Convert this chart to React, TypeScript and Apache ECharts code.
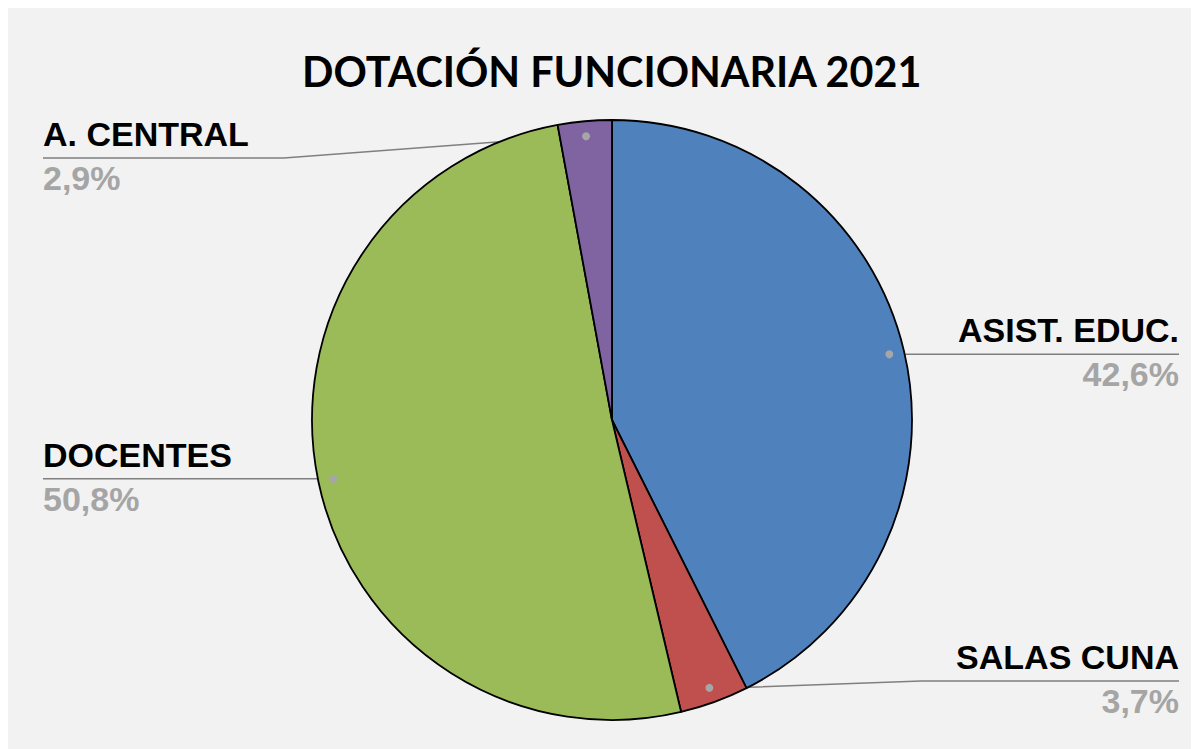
import React, { useEffect, useRef } from 'react';
import * as echarts from 'echarts';

const chartTitle = 'DOTACIÓN FUNCIONARIA 2021';
const categories = ['ASIST. EDUC.', 'SALAS CUNA', 'DOCENTES', 'A. CENTRAL'];
const values = [42.6, 3.7, 50.8, 2.9];
const colors = ['#4f81bd', '#c0504d', '#9bbb59', '#8064a2'];

const W = 1191;
const H = 741;
const CX = 604;
const CY = 412;
const R = 300;

function midAngles(): number[] {
  const total = values.reduce((a, b) => a + b, 0);
  let acc = 0;
  return values.map((v) => {
    const a = ((acc + v / 2) / total) * Math.PI * 2;
    acc += v;
    return a;
  });
}

export default function App() {
  const ref = useRef<HTMLDivElement>(null);
  useEffect(() => {
    if (!ref.current) return;
    const chart = echarts.init(ref.current, null, { renderer: 'svg' });
    const mids = midAngles();
    const dots = mids.map((a) => [CX + 0.95 * R * Math.sin(a), CY - 0.95 * R * Math.cos(a)]);
    const labelFont = 'Liberation Sans, Arial, sans-serif';
    const option: any = {
      animation: false,
      backgroundColor: '#f2f2f2',
      title: {
        text: chartTitle,
        left: 289,
        top: 37,
        textStyle: { fontFamily: 'Lato', fontWeight: 'bold', fontSize: 41.3, color: '#000' },
      },
      graphic: dots.map(([x, y]) => ({
        type: 'circle',
        z: 100,
        shape: { cx: x, cy: y, r: 4 },
        style: { fill: '#a6a6a6' },
      })),
      series: [
        {
          type: 'pie',
          center: [CX, CY],
          radius: R,
          startAngle: 90,
          clockwise: true,
          avoidLabelOverlap: false,
          data: categories.map((n, i) => ({ name: n, value: values[i], itemStyle: { color: colors[i] } })),
          itemStyle: { borderColor: '#000', borderWidth: 1.8 },
          emphasis: { disabled: true },
          label: {
            show: true,
            position: 'outside',
            formatter: (p: any) => `{n|${p.name}}\n{p|${p.percent.toFixed(1).replace('.', ',')}%}`,
            rich: {
              n: { fontFamily: labelFont, fontWeight: 'bold', fontSize: 34, color: '#000', lineHeight: 44 },
              p: { fontFamily: labelFont, fontWeight: 'bold', fontSize: 34, color: '#a5a5a5', lineHeight: 44 },
            },
          },
          labelLine: { show: true, lineStyle: { color: '#7f7f7f', width: 1.5 } },
          labelLayout: (p: any) => {
            const i = p.dataIndex;
            const [dx, dy] = dots[i];
            const right = dx > CX;
            const ly = Math.min(Math.max(dy, 150), 673);
            const ex = right ? W - 20 : 35;
            const w = p.labelRect.width;
            const hx = right ? ex - w - 35 : ex + w + 35;
            const kx = right ? dx + 40 : dx - 40;
            const ky = dy + (ly - dy) * 0.1;
            return {
              x: ex,
              y: ly - 2,
              align: right ? 'right' : 'left',
              verticalAlign: 'middle',
              labelLinePoints: [
                [dx, dy],
                [kx, ky],
                [hx, ly],
                [ex, ly],
              ],
            };
          },
        },
      ],
    };
    chart.setOption(option);
    return () => chart.dispose();
  }, []);
  return <div ref={ref} style={{ width: W, height: H }} />;
}
